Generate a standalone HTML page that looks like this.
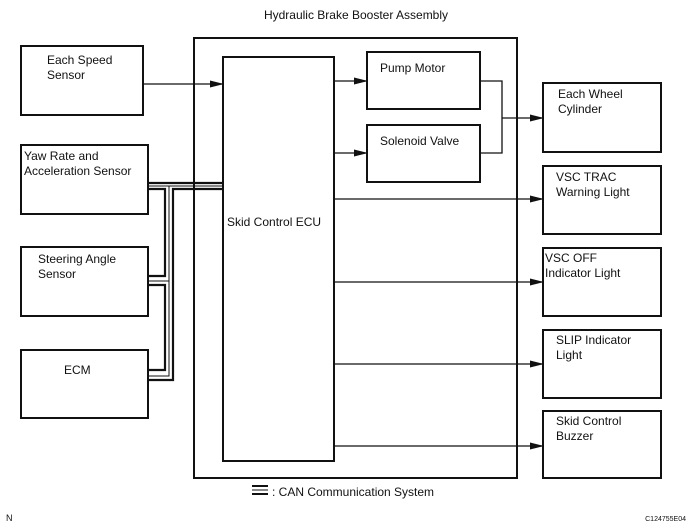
<!DOCTYPE html>
<html><head><style>
html,body{margin:0;padding:0;background:#fff;}
svg{display:block;}
text{font-family:"Liberation Sans",Arial,sans-serif;font-size:12px;fill:#111;}
</style></head><body>
<svg width="690" height="532" viewBox="0 0 690 532" xmlns="http://www.w3.org/2000/svg">
<defs>
<marker id="a" markerWidth="14" markerHeight="8" refX="13" refY="4" orient="auto" markerUnits="userSpaceOnUse">
<path d="M0,0.5 L14,4 L0,7.5 z" fill="#111"/>
</marker>
</defs>
<g fill="none" stroke="#111" stroke-width="2">
<rect x="194" y="38" width="323" height="440"/>
<rect x="223" y="57" width="111" height="404"/>
<rect x="367" y="52" width="113" height="57"/>
<rect x="367" y="125" width="113" height="57"/>
<rect x="21" y="46" width="122" height="69"/>
<rect x="21" y="145" width="127" height="69"/>
<rect x="21" y="247" width="127" height="69"/>
<rect x="21" y="350" width="127" height="68"/>
<rect x="543" y="83" width="118" height="69"/>
<rect x="543" y="166" width="118" height="68"/>
<rect x="543" y="248" width="118" height="68"/>
<rect x="543" y="330" width="118" height="68"/>
<rect x="543" y="411" width="118" height="67"/>
</g>
<g fill="none" stroke="#111" stroke-width="1.3">
<line x1="143" y1="84" x2="223" y2="84" marker-end="url(#a)"/>
<line x1="334" y1="81" x2="367" y2="81" marker-end="url(#a)"/>
<line x1="334" y1="153" x2="367" y2="153" marker-end="url(#a)"/>
<polyline points="480,81 502,81 502,153 480,153"/>
<line x1="502" y1="118" x2="543" y2="118" marker-end="url(#a)"/>
<line x1="334" y1="199" x2="543" y2="199" marker-end="url(#a)"/>
<line x1="334" y1="282" x2="543" y2="282" marker-end="url(#a)"/>
<line x1="334" y1="364" x2="543" y2="364" marker-end="url(#a)"/>
<line x1="334" y1="446" x2="543" y2="446" marker-end="url(#a)"/>
</g>
<g fill="none" stroke="#111">
<line x1="148" y1="183" x2="223" y2="183" stroke-width="2.2"/>
<polyline points="148,189 165,189 165,276 148,276" stroke-width="2.2"/>
<polyline points="148,285 165,285 165,370 148,370" stroke-width="2.2"/>
<polyline points="223,189 173,189 173,380 148,380" stroke-width="2.2"/>
<line x1="148" y1="186" x2="223" y2="186" stroke-width="1"/>
<polyline points="169,186 169,376 148,376" stroke-width="1"/>
<line x1="148" y1="281" x2="169" y2="281" stroke-width="1"/>
<line x1="252" y1="486" x2="268" y2="486" stroke-width="2"/>
<line x1="252" y1="490" x2="268" y2="490" stroke-width="1"/>
<line x1="252" y1="494" x2="268" y2="494" stroke-width="2"/>
</g>
<text x="356" y="19" text-anchor="middle">Hydraulic Brake Booster Assembly</text>
<text x="47" y="64">Each Speed</text>
<text x="47" y="79">Sensor</text>
<text x="24" y="160">Yaw Rate and</text>
<text x="24" y="175">Acceleration Sensor</text>
<text x="38" y="263">Steering Angle</text>
<text x="38" y="278">Sensor</text>
<text x="64" y="374">ECM</text>
<text x="227" y="226">Skid Control ECU</text>
<text x="380" y="72">Pump Motor</text>
<text x="380" y="145">Solenoid Valve</text>
<text x="558" y="98">Each Wheel</text>
<text x="558" y="113">Cylinder</text>
<text x="556" y="181">VSC TRAC</text>
<text x="556" y="196">Warning Light</text>
<text x="545" y="262">VSC OFF</text>
<text x="545" y="277">Indicator Light</text>
<text x="556" y="344">SLIP Indicator</text>
<text x="556" y="359">Light</text>
<text x="556" y="425">Skid Control</text>
<text x="556" y="440">Buzzer</text>
<text x="272" y="496">:  CAN Communication System</text>
<text x="6" y="521" style="font-size:9px">N</text>
<text x="686" y="521" text-anchor="end" style="font-size:7px">C124755E04</text>
</svg>
</body></html>
